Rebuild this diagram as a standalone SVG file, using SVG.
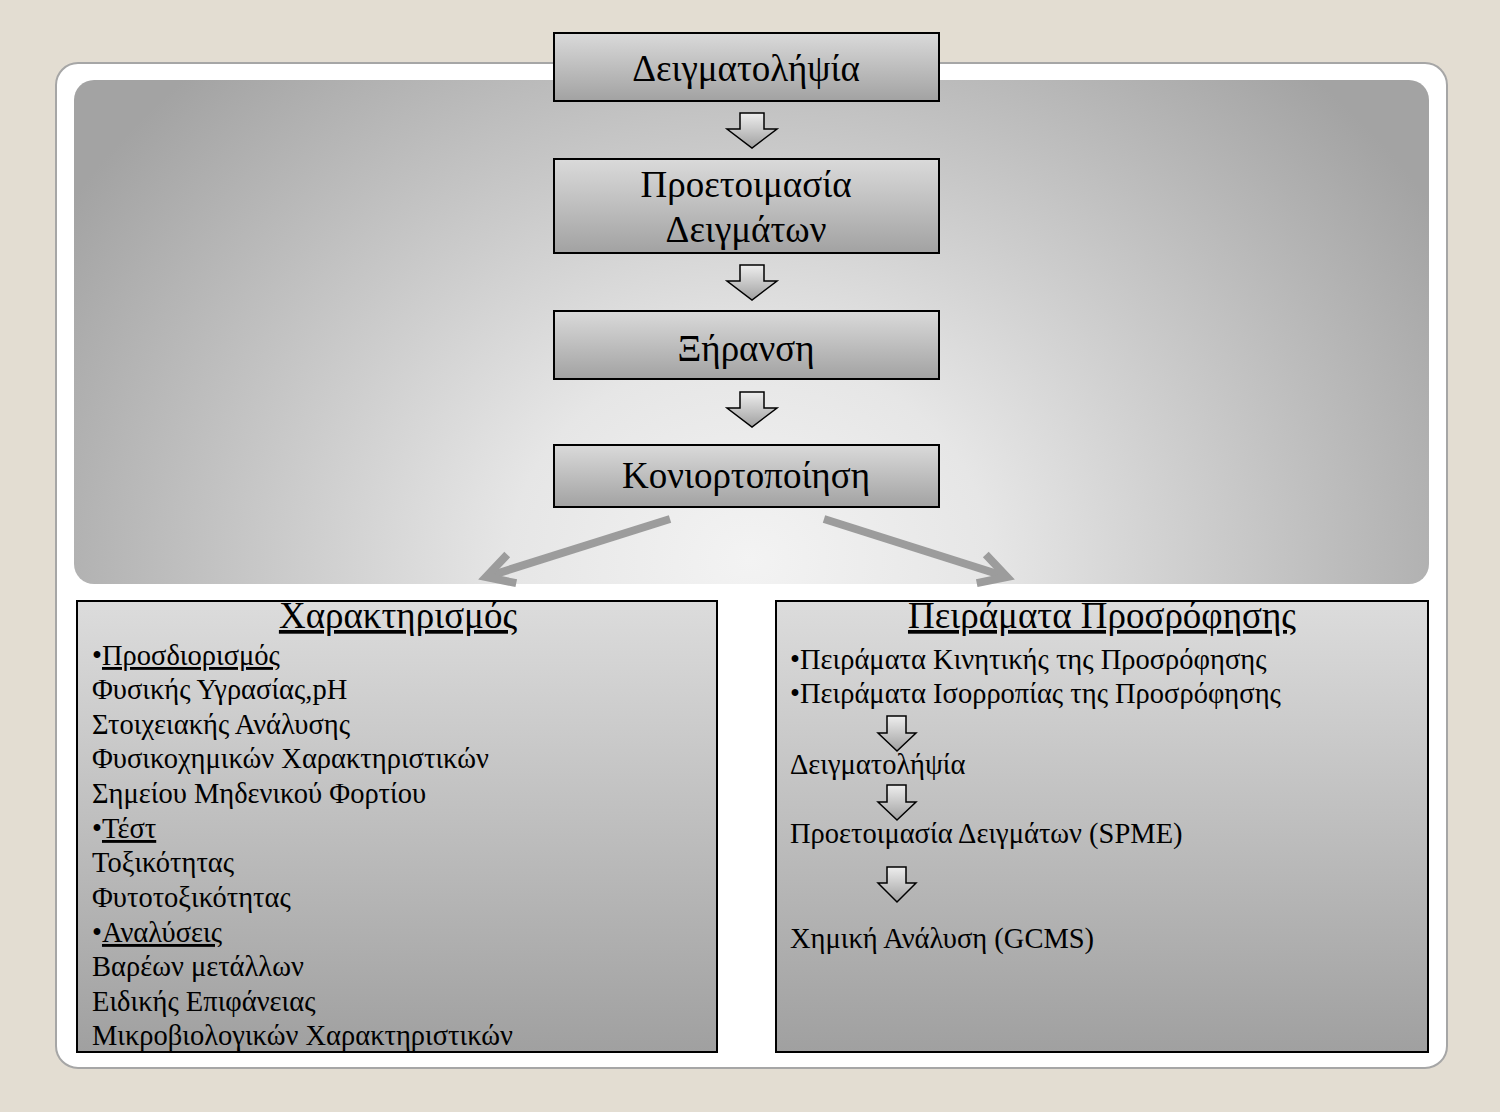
<svg xmlns="http://www.w3.org/2000/svg" width="1500" height="1112" viewBox="0 0 1500 1112">
<style>
.bx{stroke:#000;stroke-width:2}
.t{font-family:"Liberation Serif","Times New Roman",serif;fill:#000}
.big{font-size:37px}
.lst{font-size:28.5px}
.ul{text-decoration:underline}
.ha{fill:url(#gArr);stroke:#000;stroke-width:1.5;stroke-linejoin:miter}
.ga{fill:none;stroke:#9c9c9c;stroke-width:8}
</style>
<defs>
<radialGradient id="gPanel" gradientUnits="userSpaceOnUse" cx="750" cy="560" r="800" gradientTransform="translate(750 560) scale(1 0.85) translate(-750 -560)">
<stop offset="0" stop-color="#f3f3f3"/>
<stop offset="0.3" stop-color="#e6e6e6"/>
<stop offset="1" stop-color="#a3a3a3"/>
</radialGradient>
<linearGradient id="gBox" x1="0" y1="0" x2="0" y2="1">
<stop offset="0" stop-color="#dadada"/>
<stop offset="1" stop-color="#a2a2a2"/>
</linearGradient>
<linearGradient id="gLow" x1="0" y1="0" x2="0" y2="1">
<stop offset="0" stop-color="#dcdcdc"/>
<stop offset="1" stop-color="#a0a0a0"/>
</linearGradient>
<linearGradient id="gArr" x1="0" y1="0" x2="0" y2="1">
<stop offset="0" stop-color="#eeeeee"/>
<stop offset="1" stop-color="#a0a0a0"/>
</linearGradient>
<marker id="chev" markerUnits="userSpaceOnUse" markerWidth="60" markerHeight="60" refX="0" refY="0" viewBox="-40 -30 60 60" orient="auto" overflow="visible">
<path d="M-27,-15 L0,0 L-27,15" fill="none" stroke="#9c9c9c" stroke-width="8" stroke-linejoin="miter"/>
</marker>
</defs>
<rect width="1500" height="1112" fill="#e3ddd2"/>
<rect x="56" y="63" width="1391" height="1005" rx="22" fill="#ffffff" stroke="#a6a6a6" stroke-width="2"/>
<rect x="74" y="80" width="1355" height="504" rx="20" fill="url(#gPanel)"/>

<g id="n1">
<rect class="bx" x="554" y="33" width="385" height="68" fill="url(#gBox)"/>
<text class="t big" x="746" y="81" text-anchor="middle">Δειγματολήψία</text>
</g>
<g id="n2">
<rect class="bx" x="554" y="159" width="385" height="94" fill="url(#gBox)"/>
<text class="t big" x="746" y="197" text-anchor="middle">Προετοιμασία</text>
<text class="t big" x="746" y="242" text-anchor="middle">Δειγμάτων</text>
</g>
<g id="n3">
<rect class="bx" x="554" y="311" width="385" height="68" fill="url(#gBox)"/>
<text class="t big" x="746" y="361" text-anchor="middle">Ξήρανση</text>
</g>
<g id="n4">
<rect class="bx" x="554" y="445" width="385" height="62" fill="url(#gBox)"/>
<text class="t big" x="746" y="488" text-anchor="middle">Κονιορτοποίηση</text>
</g>

<g id="n5">
<rect class="bx" x="77" y="601" width="640" height="451" fill="url(#gLow)" stroke-width="1.5"/>
<text class="t big ul" x="398" y="628" text-anchor="middle">Χαρακτηρισμός</text>
<text class="t lst" x="92" y="665">•<tspan class="ul">Προσδιορισμός</tspan></text>
<text class="t lst" x="92" y="699">Φυσικής Υγρασίας,pH</text>
<text class="t lst" x="92" y="734">Στοιχειακής Ανάλυσης</text>
<text class="t lst" x="92" y="768">Φυσικοχημικών Χαρακτηριστικών</text>
<text class="t lst" x="92" y="803">Σημείου Μηδενικού Φορτίου</text>
<text class="t lst" x="92" y="838">•<tspan class="ul">Τέστ</tspan></text>
<text class="t lst" x="92" y="872">Τοξικότητας</text>
<text class="t lst" x="92" y="907">Φυτοτοξικότητας</text>
<text class="t lst" x="92" y="942">•<tspan class="ul">Αναλύσεις</tspan></text>
<text class="t lst" x="92" y="976">Βαρέων μετάλλων</text>
<text class="t lst" x="92" y="1011">Ειδικής Επιφάνειας</text>
<text class="t lst" x="92" y="1045">Μικροβιολογικών Χαρακτηριστικών</text>
</g>

<g id="n6">
<rect class="bx" x="776" y="601" width="652" height="451" fill="url(#gLow)" stroke-width="1.5"/>
<text class="t big ul" x="1102" y="628" text-anchor="middle">Πειράματα Προσρόφησης</text>
<text class="t lst" x="790" y="669">•Πειράματα Κινητικής της Προσρόφησης</text>
<text class="t lst" x="790" y="703">•Πειράματα Ισορροπίας της Προσρόφησης</text>
<text class="t lst" x="790" y="774">Δειγματολήψία</text>
<text class="t lst" x="790" y="843">Προετοιμασία Δειγμάτων (SPME)</text>
<text class="t lst" x="790" y="948">Χημική Ανάλυση (GCMS)</text>
</g>

<g id="connectors">
<path class="ha" d="M740,113 H764 V129 H777 L752,148 L727,129 H740 Z"/>
<path class="ha" d="M740,265 H764 V281 H777 L752,300 L727,281 H740 Z"/>
<path class="ha" d="M740,392 H764 V408 H777 L752,427 L727,408 H740 Z"/>
<path class="ga" d="M670,519 L486,577" marker-end="url(#chev)"/>
<path class="ga" d="M824,519 L1007,577" marker-end="url(#chev)"/>
<path class="ha" d="M887,716 H906 V733 H916 L897,751 L878,733 H887 Z"/>
<path class="ha" d="M887,785 H906 V802 H916 L897,820 L878,802 H887 Z"/>
<path class="ha" d="M887,867 H906 V883 H916 L897,902 L878,883 H887 Z"/>
</g>
</svg>
